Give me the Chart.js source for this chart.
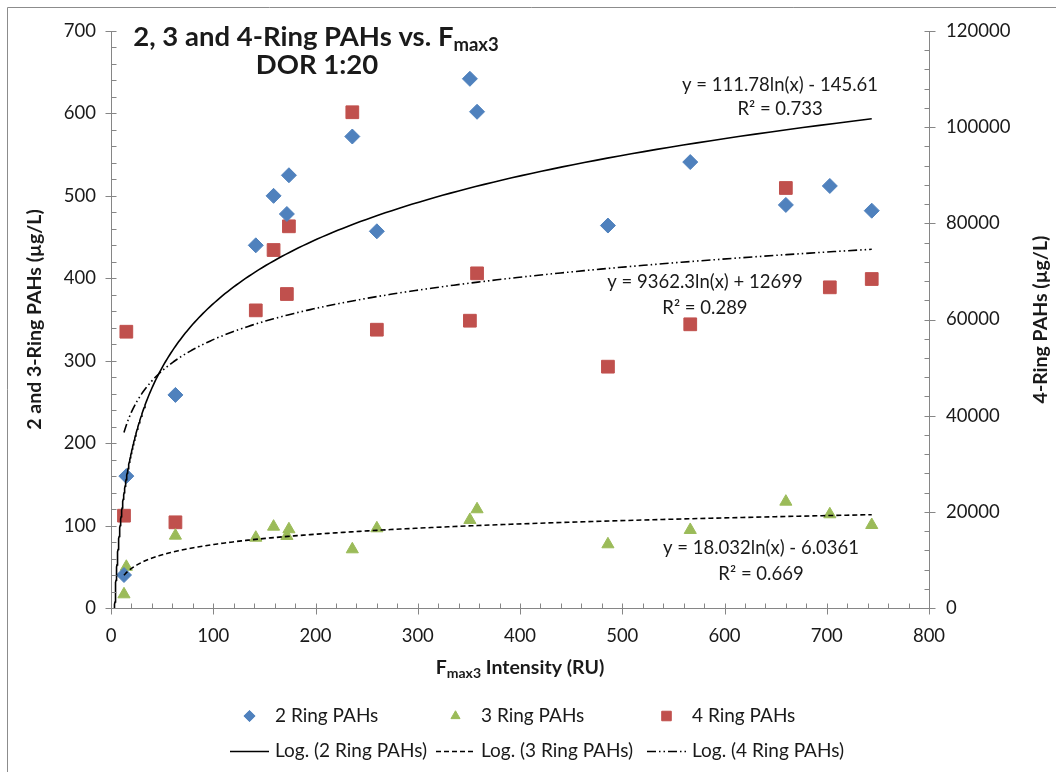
<!DOCTYPE html>
<html>
<head>
<meta charset="utf-8">
<script src="https://cdn.jsdelivr.net/npm/chart.js@4.4.1/dist/chart.umd.min.js"></script>
<style>
html,body{margin:0;padding:0;background:#fff;}
#wrap{width:1056px;height:772px;position:relative;}
</style>
</head>
<body>
<div id="wrap"><canvas id="c"></canvas></div>
<script>
// ---------------- data ----------------
const F_MAX3 = [12.7, 15.0, 63.0, 141.6, 159.0, 172.0, 174.0, 236.0, 260.0, 351.0, 358.0, 486.0, 566.5, 660.0, 703.0, 744.0];
const RING2  = [40, 160, 258.5, 440, 500, 478, 525, 572, 457, 642, 602, 464, 541, 489, 512, 482];
const RING3  = [16.6, 50, 87.8, 85.3, 98.7, 87.4, 95.5, 71.2, 96.7, 106.8, 119.8, 77.3, 94.7, 129, 113.7, 100.7];
const RING4  = [19200, 57460, 17820, 61900, 74450, 65300, 79380, 103100, 57880, 59750, 69600, 50190, 59000, 87350, 66690, 68420];

const SERIES_NAMES = ['2 Ring PAHs', '3 Ring PAHs', '4 Ring PAHs'];
const TREND_NAMES  = ['Log. (2 Ring PAHs)', 'Log. (3 Ring PAHs)', 'Log. (4 Ring PAHs)'];
// logarithmic trendlines y = a ln(x) + b
const TREND_A  = [111.78, 18.032, 9362.3];
const TREND_B  = [-145.61, -6.0361, 12699];
const TREND_R2 = ['0.733', '0.669', '0.289'];
const TREND_X0 = [2.5, 12.7, 12.7];
const TREND_X1 = [744, 744, 744];

const X_TICKS      = [0, 100, 200, 300, 400, 500, 600, 700, 800];
const Y_LEFT_TICKS = [0, 100, 200, 300, 400, 500, 600, 700];
const Y_RIGHT_TICKS= [0, 20000, 40000, 60000, 80000, 100000, 120000];

const TITLE_MAIN = '2, 3 and 4-Ring PAHs vs. F';
const TITLE_SUB  = 'max3';
const TITLE_LINE2 = 'DOR 1:20';
const X_TITLE = ['F', 'max3', ' Intensity (RU)'];
const Y_TITLE = '2 and 3-Ring PAHs (µg/L)';
const Y2_TITLE = '4-Ring PAHs (µg/L)';

// ---------------- styles / layout ----------------
const COLORS = ['#4F81BD', '#9BBB59', '#C0504D'];
const POINT_STYLES = ['rectRot', 'triangle', 'rect'];
const POINT_RADII = [7.5, 7, 9];
const TREND_DASH = [[], [5, 3], [9, 3, 1.5, 3, 1.5, 3]];
const AXIS_COLOR = '#868686';
const TEXT_COLOR = '#1a1a1a';
const FONT = 'Lato';
// label anchors in data units (x, left-axis y)
const TREND_LABEL_POS = [[654.3, 634.5, 605.4], [635.7, 72.8, 41.2], [580.9, 395.5, 364.0]];
const LEGEND = {row1Y: 716, row2Y: 751, cols: [230, 436, 647], symW: 39, textOff: 45};

function trendPoints(i) {
  const pts = [];
  const n = 240;
  const x0 = TREND_X0[i], x1 = TREND_X1[i];
  for (let k = 0; k <= n; k++) {
    const x = x0 * Math.pow(x1 / x0, k / n);
    pts.push({x, y: TREND_A[i] * Math.log(x) + TREND_B[i]});
  }
  return pts;
}
function fmtEq(i) {
  const b = TREND_B[i];
  return 'y = ' + TREND_A[i] + 'ln(x) ' + (b < 0 ? '- ' : '+ ') + Math.abs(b);
}

const seriesVals = [RING2, RING3, RING4];
const axisFor = ['y', 'y', 'y2'];

const datasets = [];
for (let i = 0; i < 3; i++) {
  datasets.push({
    label: TREND_NAMES[i],
    data: trendPoints(i),
    yAxisID: axisFor[i],
    showLine: true,
    borderColor: '#000',
    backgroundColor: '#000',
    borderWidth: 1.6,
    borderDash: TREND_DASH[i],
    pointRadius: 0,
    pointHoverRadius: 0,
    order: 0
  });
}
for (let i = 0; i < 3; i++) {
  datasets.push({
    label: SERIES_NAMES[i],
    data: F_MAX3.map((x, k) => ({x, y: seriesVals[i][k]})),
    yAxisID: axisFor[i],
    showLine: false,
    pointStyle: POINT_STYLES[i],
    pointRadius: POINT_RADII[i],
    pointHoverRadius: POINT_RADII[i],
    backgroundColor: COLORS[i],
    borderColor: COLORS[i],
    borderWidth: 1,
    order: 1
  });
}

function drawRich(ctx, parts, cx, baseY) {
  let w = 0;
  parts.forEach(p => { ctx.font = p.font; p.w = ctx.measureText(p.t).width; w += p.w; });
  let x = cx - w / 2;
  ctx.textAlign = 'left';
  ctx.textBaseline = 'alphabetic';
  parts.forEach(p => { ctx.font = p.font; ctx.fillText(p.t, x, baseY + (p.dy || 0)); x += p.w; });
}

const customPlugin = {
  id: 'custom',
  afterDraw(chart) {
    const ctx = chart.ctx;
    const {left, right, top, bottom} = chart.chartArea;
    const sx = chart.scales.x, sy = chart.scales.y, sy2 = chart.scales.y2;
    ctx.save();
    // outer chart border
    ctx.strokeStyle = '#8c8c8c';
    ctx.lineWidth = 1;
    ctx.beginPath();
    ctx.moveTo(7.5, 772); ctx.lineTo(7.5, 7.5); ctx.lineTo(1056, 7.5);
    ctx.stroke();

    // tick marks
    ctx.strokeStyle = AXIS_COLOR;
    ctx.beginPath();
    const xb = Math.round(bottom) + 0.5;
    for (let v = X_TICKS[0]; v <= X_TICKS[X_TICKS.length - 1]; v += 20) {
      const p = Math.round(sx.getPixelForValue(v)) + 0.5;
      const major = v % 100 === 0;
      ctx.moveTo(p, xb - 5); ctx.lineTo(p, major ? xb + 6 : xb);
    }
    const yl = Math.round(left) + 0.5;
    for (let v = 0; v <= 700; v += 20) {
      const p = Math.round(sy.getPixelForValue(v)) + 0.5;
      const major = v % 100 === 0;
      ctx.moveTo(yl + 5, p); ctx.lineTo(major ? yl - 6 : yl, p);
    }
    const yr = Math.round(right) + 0.5;
    for (let v = 0; v <= 120000; v += 4000) {
      const p = Math.round(sy2.getPixelForValue(v)) + 0.5;
      const major = v % 20000 === 0;
      ctx.moveTo(yr - 5, p); ctx.lineTo(major ? yr + 6 : yr, p);
    }
    ctx.stroke();

    ctx.fillStyle = TEXT_COLOR;
    // chart title
    const tcx = 316;
    drawRich(ctx, [
      {t: TITLE_MAIN, font: 'bold 27.5px ' + FONT},
      {t: TITLE_SUB, font: 'bold 18.5px ' + FONT, dy: 5}
    ], tcx, 46);
    drawRich(ctx, [{t: TITLE_LINE2, font: 'bold 27.5px ' + FONT}], tcx + 1, 74);

    // x axis title
    drawRich(ctx, [
      {t: X_TITLE[0], font: 'bold 19.5px ' + FONT},
      {t: X_TITLE[1], font: 'bold 14px ' + FONT, dy: 4},
      {t: X_TITLE[2], font: 'bold 19.5px ' + FONT}
    ], (left + right) / 2, 674);

    // y axis titles (both read bottom-to-top)
    const midY = (top + bottom) / 2;
    ctx.font = 'bold 19.5px ' + FONT;
    ctx.textAlign = 'center';
    ctx.textBaseline = 'alphabetic';
    ctx.save(); ctx.translate(41, midY); ctx.rotate(-Math.PI / 2); ctx.fillText(Y_TITLE, 0, 0); ctx.restore();
    ctx.save(); ctx.translate(1047, midY); ctx.rotate(-Math.PI / 2); ctx.fillText(Y2_TITLE, 0, 0); ctx.restore();

    // trendline labels
    ctx.font = '18.5px ' + FONT;
    ctx.textAlign = 'center';
    ctx.textBaseline = 'middle';
    for (let i = 0; i < 3; i++) {
      const pos = TREND_LABEL_POS[i];
      const px = sx.getPixelForValue(pos[0]);
      ctx.fillText(fmtEq(i), px, sy.getPixelForValue(pos[1]));
      ctx.fillText('R\u00B2 = ' + TREND_R2[i], px, sy.getPixelForValue(pos[2]));
    }

    // legend
    ctx.textAlign = 'left';
    ctx.textBaseline = 'middle';
    ctx.font = '19px ' + FONT;
    for (let i = 0; i < 3; i++) {
      const ds = chart.data.datasets[3 + i];
      const c0 = LEGEND.cols[i];
      const cx = c0 + LEGEND.symW / 2;
      ctx.fillStyle = ds.backgroundColor;
      ctx.strokeStyle = ds.borderColor;
      ctx.lineWidth = 1;
      Chart.helpers.drawPoint(ctx, {pointStyle: ds.pointStyle, radius: ds.pointRadius * 0.75, rotation: 0, borderWidth: 1}, cx, LEGEND.row1Y);
      ctx.fillStyle = TEXT_COLOR;
      ctx.fillText(ds.label, c0 + LEGEND.textOff, LEGEND.row1Y);

      const tr = chart.data.datasets[i];
      ctx.strokeStyle = tr.borderColor;
      ctx.lineWidth = tr.borderWidth;
      ctx.setLineDash(tr.borderDash);
      ctx.beginPath();
      ctx.moveTo(c0, LEGEND.row2Y + 0.5); ctx.lineTo(c0 + LEGEND.symW, LEGEND.row2Y + 0.5);
      ctx.stroke();
      ctx.setLineDash([]);
      ctx.fillText(tr.label, c0 + LEGEND.textOff, LEGEND.row2Y);
    }
    ctx.restore();
  }
};

function build() {
  Chart.defaults.font.family = FONT;
  new Chart(document.getElementById('c'), {
    type: 'scatter',
    data: {datasets},
    plugins: [customPlugin],
    options: {
      responsive: true,
      maintainAspectRatio: false,
      animation: false,
      layout: {padding: {top: 31, left: 0, right: 0, bottom: 0}},
      plugins: {legend: {display: false}, title: {display: false}, tooltip: {enabled: false}},
      scales: {
        x: {
          type: 'linear', position: 'bottom', min: 0, max: 800,
          afterBuildTicks: s => { s.ticks = X_TICKS.map(v => ({value: v})); },
          ticks: {font: {size: 18.5}, color: TEXT_COLOR, padding: 17, maxRotation: 0},
          grid: {display: false, drawTicks: false, tickLength: 0},
          border: {display: true, color: AXIS_COLOR, width: 1},
          afterFit: s => { s.height = 164; }
        },
        y: {
          type: 'linear', position: 'left', min: 0, max: 700,
          afterBuildTicks: s => { s.ticks = Y_LEFT_TICKS.map(v => ({value: v})); },
          ticks: {font: {size: 18.5}, color: TEXT_COLOR, padding: 15},
          grid: {display: false, drawTicks: false, tickLength: 0},
          border: {display: true, color: AXIS_COLOR, width: 1},
          afterFit: s => { s.width = 111; }
        },
        y2: {
          type: 'linear', position: 'right', min: 0, max: 120000,
          afterBuildTicks: s => { s.ticks = Y_RIGHT_TICKS.map(v => ({value: v})); },
          ticks: {font: {size: 18.5}, color: TEXT_COLOR, padding: 17, callback: v => String(v)},
          grid: {display: false, drawTicks: false, tickLength: 0},
          border: {display: true, color: AXIS_COLOR, width: 1},
          afterFit: s => { s.width = 127; }
        }
      }
    }
  });
}
if (document.fonts && document.fonts.load) {
  Promise.all([document.fonts.load('18px Lato'), document.fonts.load('bold 18px Lato')]).then(build, build);
} else { build(); }
</script>
</body>
</html>
